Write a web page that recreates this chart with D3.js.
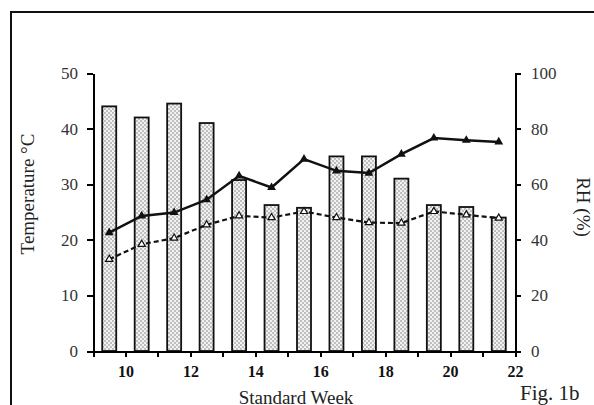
<!DOCTYPE html>
<meta charset="utf-8">
<style>
body { margin: 0; background: #fff; }
svg text { font-family: "Liberation Serif", "DejaVu Serif", serif; }
.axis path, .axis line { fill: none; stroke: #000; stroke-width: 2px; shape-rendering: crispEdges; }
.axis text { font-size: 17px; fill: #333; }
.axis--x text { font-weight: bold; font-size: 16px; fill: #111; }
.label { font-size: 19px; fill: #222; }
</style>
<body>
<script src="https://d3js.org/d3.v7.min.js"></script>
<script>

// standard weeks (bars/points sit half a week left of the tick with the same number)
var weeks = [10, 11, 12, 13, 14, 15, 16, 17, 18, 19, 20, 21, 22];
var rh = [88, 84, 89, 82, 61.5, 52.5, 51.5, 70, 70, 62, 52.5, 51.8, 48];
var tMax = [21.3, 24.3, 24.9, 27.2, 31.5, 29.4, 34.5, 32.4, 32.0, 35.4, 38.3, 37.9, 37.6];
var tMin = [16.5, 19.2, 20.3, 22.7, 24.3, 24.0, 25.1, 24.0, 23.1, 23.0, 25.1, 24.5, 23.9];
var xTicks = [9, 10, 11, 12, 13, 14, 15, 16, 17, 18, 19, 20, 21, 22];
var tempTicks = [0, 10, 20, 30, 40, 50];
var rhTicks = [0, 20, 40, 60, 80, 100];

var W = 594, H = 405;
var plotLeft = 93, plotRight = 515, plotTop = 73, plotBottom = 351;

var svg = d3.select("body").append("svg")
    .attr("width", W)
    .attr("height", H);

var defs = svg.append("defs");
var pat = defs.append("pattern")
    .attr("id", "dots")
    .attr("patternUnits", "userSpaceOnUse")
    .attr("width", 4)
    .attr("height", 4);
pat.append("rect").attr("width", 4).attr("height", 4).attr("fill", "#f2f2f2");
pat.append("circle").attr("cx", 1).attr("cy", 1).attr("r", 0.7).attr("fill", "#666");
pat.append("circle").attr("cx", 3).attr("cy", 3).attr("r", 0.7).attr("fill", "#666");

// outer frame (runs off the right and bottom edges)
svg.append("rect")
    .attr("x", 11)
    .attr("y", 12)
    .attr("width", 640)
    .attr("height", 440)
    .attr("fill", "none")
    .attr("stroke", "#111")
    .attr("stroke-width", 2);

var x = d3.scaleLinear().domain([9, 22]).range([plotLeft, plotRight]);
var yT = d3.scaleLinear().domain([0, 50]).range([plotBottom, plotTop]);
var yR = d3.scaleLinear().domain([0, 100]).range([plotBottom, plotTop]);

function cx(w) { return x(w - 0.5); }

// bars: RH
svg.append("g").selectAll("rect")
    .data(weeks)
  .enter().append("rect")
    .attr("x", function(d) { return cx(d) - 7; })
    .attr("width", 14)
    .attr("y", function(d, i) { return yR(rh[i]); })
    .attr("height", function(d, i) { return plotBottom - yR(rh[i]); })
    .attr("fill", "url(#dots)")
    .attr("stroke", "#111")
    .attr("stroke-width", 1.8);

var line = d3.line()
    .x(function(d) { return cx(d[0]); })
    .y(function(d) { return yT(d[1]); });

var maxPts = weeks.map(function(w, i) { return [w, tMax[i]]; });
var minPts = weeks.map(function(w, i) { return [w, tMin[i]]; });

svg.append("path")
    .datum(minPts)
    .attr("d", line)
    .attr("fill", "none")
    .attr("stroke", "#111")
    .attr("stroke-width", 2.2)
    .attr("stroke-dasharray", "5,3");

svg.append("path")
    .datum(maxPts)
    .attr("d", line)
    .attr("fill", "none")
    .attr("stroke", "#111")
    .attr("stroke-width", 2.5);

svg.append("g").selectAll("path")
    .data(minPts)
  .enter().append("path")
    .attr("transform", function(d) { return "translate(" + cx(d[0]) + "," + yT(d[1]) + ")"; })
    .attr("d", d3.symbol().type(d3.symbolTriangle).size(22))
    .attr("fill", "#fff")
    .attr("stroke", "#111")
    .attr("stroke-width", 1.2);

svg.append("g").selectAll("path")
    .data(maxPts)
  .enter().append("path")
    .attr("transform", function(d) { return "translate(" + cx(d[0]) + "," + yT(d[1]) + ")"; })
    .attr("d", d3.symbol().type(d3.symbolTriangle).size(34))
    .attr("fill", "#111");

// axes
svg.append("g")
    .attr("class", "axis axis--x")
    .attr("transform", "translate(0," + plotBottom + ")")
    .call(d3.axisBottom(x).tickValues(xTicks).tickSize(6).tickSizeOuter(0)
      .tickFormat(function(d) { return d % 2 === 0 ? d : ""; }))
    .selectAll("text").attr("dy", "1.05em");

svg.append("g")
    .attr("class", "axis axis--y")
    .attr("transform", "translate(" + plotLeft + ",0)")
    .call(d3.axisLeft(yT).tickValues(tempTicks).tickSize(6).tickSizeOuter(0).tickPadding(9));

svg.append("g")
    .attr("class", "axis axis--r")
    .attr("transform", "translate(" + plotRight + ",0)")
    .call(d3.axisRight(yR).tickValues(rhTicks).tickSize(6).tickSizeOuter(0).tickPadding(10));

svg.selectAll(".axis").attr("font-family", null);

// labels
svg.append("text")
    .attr("class", "label")
    .attr("transform", "translate(34,194) rotate(-90)")
    .attr("text-anchor", "middle")
    .text("Temperature \u00b0C");

svg.append("text")
    .attr("class", "label")
    .attr("transform", "translate(577,207) rotate(90)")
    .attr("text-anchor", "middle")
    .text("RH (%)");

svg.append("text")
    .attr("class", "label")
    .attr("x", 296)
    .attr("y", 404)
    .attr("text-anchor", "middle")
    .text("Standard Week");

svg.append("text")
    .attr("class", "label")
    .attr("x", 520)
    .attr("y", 400)
    .style("font-size", "21px")
    .text("Fig. 1b");

</script>
